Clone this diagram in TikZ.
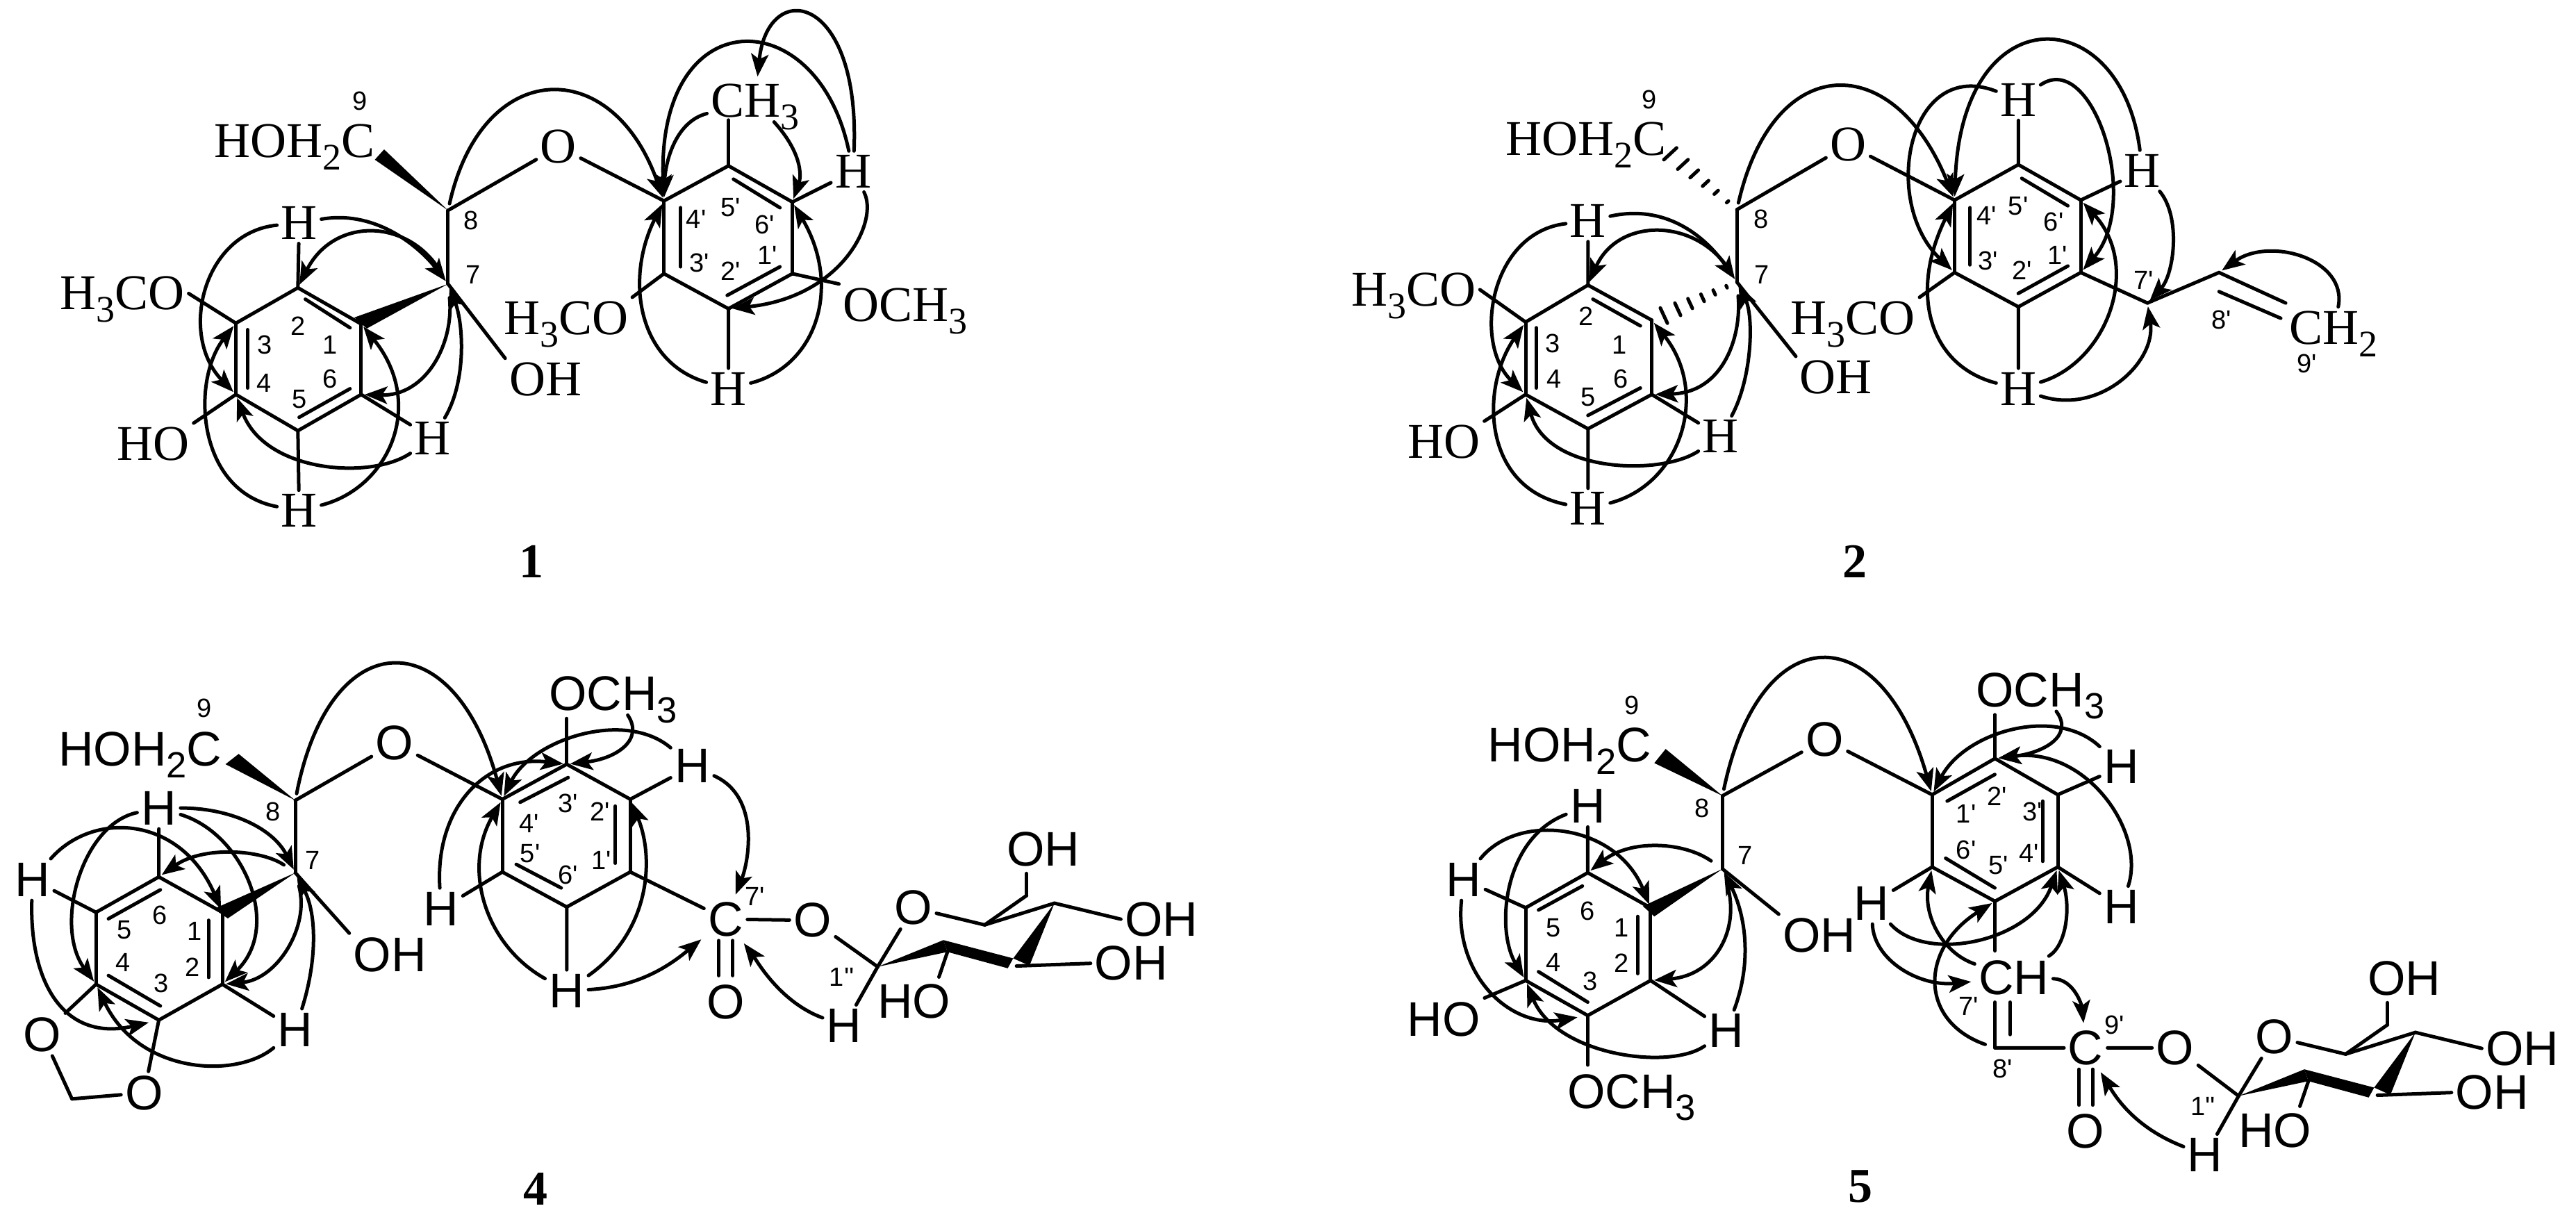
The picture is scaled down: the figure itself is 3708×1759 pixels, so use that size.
\documentclass[tikz,border=0pt]{standalone}
\usepackage{fontspec}
\usetikzlibrary{arrows.meta,calc}
\newfontfamily\chemserif{Liberation Serif}
\newfontfamily\chemsans{Liberation Sans}
\newcommand{\low}[1]{\smash{\raisebox{-.25em}{\scalebox{.75}{#1}}}}

\begin{document}
\begin{tikzpicture}[
    x=0.2pt, y=-0.2pt,
    bond/.style={line width=1pt, line cap=round},
    hmbc/.style={line width=1pt, line cap=round, shorten >=1pt, -{Stealth[length=6.5pt,width=5pt,inset=1.5pt]}},
    atom/.style={inner sep=1pt, font=\chemserif\fontsize{14.4}{15}\selectfont},
    atomsans/.style={inner sep=1pt, font=\chemsans\fontsize{14}{15}\selectfont},
    digit/.style={inner sep=0pt, font=\chemsans\fontsize{7.6}{8}\selectfont},
    cmpd/.style={inner sep=0pt, font=\chemserif\bfseries\fontsize{14}{14}\selectfont}
]
\useasboundingbox (0,0) rectangle (3708,1759);

% Sugar of 4 and 5
\foreach \m/\dx/\dy in {d/0/0,e/1959/186}{
\begin{scope}[shift={(40+\dx,900+\dy)}, xscale=1.116, yscale=0.548]
\coordinate (s1\m) at (1096,897);
\coordinate (s2\m) at (1186,858);
\coordinate (s3\m) at (1275,895);
\coordinate (s4\m) at (1324,730);
\coordinate (s5\m) at (1234,787);
\coordinate (s6\m) at (1288,710);
\coordinate (e6\m) at (1288,652);
\coordinate (e2\m) at (1175,924);
\node[atomsans] (o5\m) at (1142,742) {O};
\node[atomsans] (oh6\m) at (1310,588) {OH};
\node[atomsans] (oh4\m) at (1462,772) {OH};
\node[atomsans] (oh3\m) at (1423,888) {OH};
\node[atomsans] (ho2\m) at (1143,988) {HO};
\node[atomsans] (h1\m) at (1053,1052) {H};
\node[digit] (lab1\m) at (1050,925) {1''};
\fill (s1\m) -- (1181,827) -- (s2\m) -- cycle;
\fill (1181,827) -- (1271,875) -- (1264,901) -- (s2\m) -- cycle;
\fill (s4\m) -- (1271,875) -- (1292,894) -- cycle;
\foreach \u/\v in {s1\m/o5\m,o5\m/s5\m,s5\m/s4\m,s5\m/s6\m,s6\m/e6\m,s4\m/oh4\m.west,s3\m/oh3\m.west,s2\m/e2\m,s1\m/h1\m}
  \draw[bond] (\u) -- (\v);
\end{scope}
}

% Compound 1
\begin{scope}[shift={(60,0)}, xscale=0.893, yscale=0.5486]
\foreach \n/\x/\y in {c2a/413/755,c1a/515/850,c6a/515/1035,c5a/413/1130,c4a/313/1035,c3a/313/848,c7a/655/745,c8a/655/552,
    c5pa/1107/435,c6pa/1210/530,c1pa/1210/718,c2pa/1107/810,c3pa/1003/718,c4pa/1003/527,ch3a/1107/315}
  \coordinate (\n) at (\x,\y);
\foreach \n/\x/\y in {h2a/415/585,h6a/630/1150,h5a/415/1340,h6pa/1308/450,h2pa/1107/1020}
  \node[atom] (\n) at (\x,\y) {H};
\node[atom] (o1a) at (833,385) {O};
\node[atom] (oha) at (812,995) {OH};
\node[atom] (hoa) at (180,1165) {HO};
\node[atom] (meo3a) at (130,770) {H\low{3}CO};
\node[atom] (meo3pa) at (845,835) {H\low{3}CO};
\node[atom] (meo1pa) at (1392,800) {OCH\low{3}};
\node[atom] (me5pa) at (1150,265) {CH\low{3}};
\node[atom] (c9a) at (408,370) {HOH\low{2}C};
\node[cmpd] (num1) at (790,1473) {1};
\foreach \t/\x/\y [count=\k] in {9/513/265,8/692/578,7/695/720,2/413/855,1/465/905,3/360/905,4/358/1005,5/415/1048,6/465/995,
    5'/1110/545,4'/1055/575,6'/1165/590,1'/1170/670,3'/1060/690,2'/1110/712}
  \node[digit] (laba\k) at (\x,\y) {\t};

% Bonds
\foreach \u/\v in {c2a/c1a,c1a/c6a,c6a/c5a,c5a/c4a,c4a/c3a,c3a/c2a,c7a/c8a,c5pa/c6pa,c6pa/c1pa,c1pa/c2pa,c2pa/c3pa,c3pa/c4pa,c4pa/c5pa,
    c2a/h2a,c6a/h6a,c5a/h5a,c6pa/h6pa,c2pa/h2pa,c5pa/ch3a,c3a/meo3a.east,c4a/hoa.north east,c7a/oha.north west,
    c3pa/meo3pa.north east,c1pa/meo1pa.north west,c8a/o1a,o1a/c4pa}
  \draw[bond] (\u) -- (\v);
\foreach \p/\q in {{425,785}/{497,860},{332,865}/{332,1018},{415,1095}/{497,1020},{1115,470}/{1190,545},{1190,700}/{1105,775},{1030,545}/{1030,700}}
  \draw[bond] (\p) -- (\q);
\fill (c8a) -- (537,419) -- (552,392) -- cycle;
\fill (c7a) -- (504,833) -- (524,862) -- cycle;

% HMBC
\draw[hmbc] (h2a) .. controls (260,610) and (220,880) .. (c4a);
\draw[hmbc] (h5a) .. controls (250,1290) and (240,1000) .. (c3a);
\draw[hmbc] (h5a) .. controls (560,1280) and (620,1060) .. (c1a);
\draw[hmbc] (h6a) .. controls (530,1260) and (360,1240) .. (c4a);
\draw[hmbc] (h6a) .. controls (685,1000) and (680,850) .. (c7a);
\draw[hmbc] (h2a) .. controls (540,550) and (610,650) .. (c7a);
\draw[hmbc, shorten <=4pt] (c7a) .. controls (590,570) and (470,570) .. (c2a);
\draw[hmbc, shorten <=4pt] (c7a) .. controls (665,900) and (620,1040) .. (c6a);
\draw[hmbc, shorten <=2pt] (c8a) .. controls (710,150) and (920,140) .. (c4pa);
\draw[hmbc] (h6pa) .. controls (1320,-20) and (1170,-60) .. (me5pa);
\draw[hmbc] (h6pa) .. controls (1250,0) and (990,0) .. (c4pa);
\draw[hmbc] (me5pa) .. controls (1020,320) and (1005,430) .. (c4pa);
\draw[hmbc] (me5pa) .. controls (1225,400) and (1225,460) .. (c6pa);
\draw[hmbc] (h6pa) .. controls (1350,580) and (1290,780) .. (c2pa);
\draw[hmbc] (h2pa) .. controls (1250,960) and (1290,750) .. (c6pa);
\draw[hmbc] (h2pa) .. controls (960,950) and (940,730) .. (c4pa);
\end{scope}

% Compound 2
\begin{scope}[shift={(1900,0)}, xscale=1.0204, yscale=0.5486]
\foreach \n/\x/\y in {c2b/378/748,c1b/468/840,c6b/468/1035,c5b/378/1125,c4b/290/1035,c3b/290/845,c7b/588/740,c8b/588/550,
    c5pb/985/432,c6pb/1073/525,c1pb/1073/715,c2pb/985/805,c3pb/895/715,c4pb/895/525,c7pb/1167/795,c8pb/1268/715,
    e9pb/1362/795,f9pb/1355/835,g9pb/1268/765}
  \coordinate (\n) at (\x,\y);
\foreach \n/\x/\y in {h2b/378/580,h6b/565/1145,h5b/378/1335,h5pb/985/262,h6pb/1160/448,h2pb/985/1020}
  \node[atom] (\n) at (\x,\y) {H};
\node[atom] (o1b) at (745,380) {O};
\node[atom] (ohb) at (728,990) {OH};
\node[atom] (hob) at (175,1160) {HO};
\node[atom] (meo3b) at (132,760) {H\low{3}CO};
\node[atom] (meo3pb) at (752,835) {H\low{3}CO};
\node[atom] (c9b) at (375,365) {HOH\low{2}C};
\node[atom] (c9pb) at (1430,860) {CH\low{2}};
\node[cmpd] (num2) at (755,1473) {2};
\foreach \t/\x/\y [count=\k] in {9/465/262,8/622/575,7/623/720,2/375/830,1/422/905,3/328/902,4/330/995,5/378/1042,6/424/995,
    5'/985/540,4'/940/565,6'/1035/582,1'/1040/670,3'/942/685,2'/990/710,7'/1162/735,8'/1272/840,9'/1392/955}
  \node[digit] (labb\k) at (\x,\y) {\t};

% Bonds
\foreach \u/\v in {c2b/c1b,c1b/c6b,c6b/c5b,c5b/c4b,c4b/c3b,c3b/c2b,c7b/c8b,c5pb/c6pb,c6pb/c1pb,c1pb/c2pb,c2pb/c3pb,c3pb/c4pb,c4pb/c5pb,
    c2b/h2b,c6b/h6b,c5b/h5b,c5pb/h5pb,c6pb/h6pb,c2pb/h2pb,c3b/meo3b.east,c4b/hob.north east,c7b/ohb.north west,
    c3pb/meo3pb.north east,c8b/o1b,o1b/c4pb,c1pb/c7pb,c7pb/c8pb,c8pb/e9pb,g9pb/f9pb}
  \draw[bond] (\u) -- (\v);
\foreach \p/\q in {{385,785}/{452,855},{305,860}/{305,1018},{378,1090}/{452,1018},{990,468}/{1055,540},{1055,698}/{985,770},{917,545}/{917,695}}
  \draw[bond] (\p) -- (\q);
\coordinate (hash1b) at (480,808);
\coordinate (hash2b) at (490,848);
\coordinate (hash3b) at (485,419);
\coordinate (hash4b) at (503,388);
\foreach \f in {0.14,0.31,0.47,0.64,0.81,1}{
  \draw[bond] ($(c7b)!\f!(hash1b)$) -- ($(c7b)!\f!(hash2b)$);
  \draw[bond] ($(c8b)!\f!(hash3b)$) -- ($(c8b)!\f!(hash4b)$);
}

% HMBC
\draw[hmbc] (h2b) .. controls (240,610) and (215,900) .. (c4b);
\draw[hmbc] (h5b) .. controls (230,1280) and (225,1020) .. (c3b);
\draw[hmbc] (h5b) .. controls (510,1270) and (550,1030) .. (c1b);
\draw[hmbc] (h6b) .. controls (480,1250) and (320,1240) .. (c4b);
\draw[hmbc] (h6b) .. controls (610,990) and (612,830) .. (c7b);
\draw[hmbc] (h2b) .. controls (500,530) and (555,650) .. (c7b);
\draw[hmbc, shorten <=4pt] (c7b) .. controls (530,570) and (420,570) .. (c2b);
\draw[hmbc, shorten <=4pt] (c7b) .. controls (595,880) and (570,1030) .. (c6b);
\draw[hmbc, shorten <=2pt] (c8b) .. controls (640,130) and (810,130) .. (c4pb);
\draw[hmbc] (h5pb) .. controls (830,150) and (790,530) .. (c3pb);
\draw[hmbc] (h2pb) .. controls (860,960) and (830,770) .. (c4pb);
\draw[hmbc] (h2pb) .. controls (1110,950) and (1160,700) .. (c6pb);
\draw[hmbc] (h5pb) .. controls (1090,130) and (1160,530) .. (c1pb);
\draw[hmbc] (h6pb) .. controls (1130,0) and (905,-15) .. (c4pb);
\draw[hmbc] (h6pb) .. controls (1215,570) and (1205,720) .. (c7pb);
\draw[hmbc] (h2pb) .. controls (1100,1090) and (1180,950) .. (c7pb);
\draw[hmbc] (c9pb) .. controls (1450,680) and (1340,620) .. (c8pb);
\end{scope}

% Compound 4
\begin{scope}[shift={(40,900)}, xscale=1.116, yscale=0.548]
\foreach \n/\x/\y in {c6d/169/661,c1d/251/754,c2d/251/943,c3d/169/1037,c4d/88/943,c5d/88/754,c7d/345/650,c8d/345/460,
    c3pd/695/365,c2pd/777/457,c1pd/777/648,c6pd/695/740,c5pd/612/648,c4pd/612/457,eomd/695/245,ch2d/57/1244}
  \coordinate (\n) at (\x,\y);
\foreach \n/\x/\y in {h6d/169/480,h5d/6/668,h2d/345/1062,h2pd/857/370,h5pd/533/745,h6pd/695/960}
  \node[atomsans] (\n) at (\x,\y) {H};
\node[atomsans] (o1d) at (473,310) {O};
\node[atomsans] (ohd) at (467,865) {OH};
\node[atomsans] (o4d) at (19,1075) {O};
\node[atomsans] (o3d) at (150,1228) {O};
\node[atomsans] (c9d) at (145,325) {HOH\low{2}C};
\node[atomsans] (meod) at (755,180) {OCH\low{3}};
\node[atomsans] (c7pd) at (900,772) {C};
\node[atomsans] (o7pd) at (900,990) {O};
\node[atomsans] (oesd) at (1012,775) {O};
\node[cmpd] (num4) at (655,1480) {4};
\foreach \t/\x/\y [count=\k] in {9/228/218,8/316/490,7/367/617,6/170/762,5/125/800,4/123/885,3/172/940,2/212/898,1/215/803,
    3'/697/468,4'/647/520,2'/738/490,5'/648/600,1'/740/618,6'/697/655,7'/938/712}
  \node[digit] (labd\k) at (\x,\y) {\t};

% Bonds
\foreach \u/\v in {c6d/c1d,c1d/c2d,c2d/c3d,c3d/c4d,c4d/c5d,c5d/c6d,c7d/c8d,c3pd/c2pd,c2pd/c1pd,c1pd/c6pd,c6pd/c5pd,c5pd/c4pd,c4pd/c3pd,
    c6d/h6d,c5d/h5d,c2d/h2d,c2pd/h2pd,c5pd/h5pd,c6pd/h6pd,c3pd/eomd,c7d/ohd.north west,c4d/o4d,c3d/o3d,o4d/ch2d,ch2d/o3d,
    c8d/o1d,o1d/c4pd,c1pd/c7pd,c7pd/oesd,oesd/s1d}
  \draw[bond] (\u) -- (\v);
\foreach \p/\q in {{171,695}/{104,771},{104,920}/{171,1000},{233,775}/{233,925},{635,465}/{697,400},{630,628}/{688,690},{758,475}/{758,625}}
  \draw[bond] (\p) -- (\q);
\draw[bond, shorten >=1.5pt] ([xshift=-1.8pt]c7pd.south) -- ([xshift=-1.8pt]o7pd.north);
\draw[bond, shorten >=1.5pt] ([xshift=1.8pt]c7pd.south) -- ([xshift=1.8pt]o7pd.north);
\fill (c8d) -- (255,365) -- (272,338) -- cycle;
\fill (c7d) -- (240,745) -- (258,770) -- cycle;

% HMBC
\draw[hmbc] (h6d) .. controls (69,523) and (33,791) .. (c4d);
\draw[hmbc] (h5d) .. controls (84,487) and (197,499) .. (c1d);
\draw[hmbc, shorten >=3pt] (h5d) .. controls (2,943) and (48,1095) .. (c3d);
\draw[hmbc] (h2d) .. controls (269,1192) and (143,1180) .. (c4d);
\draw[hmbc] (h6d) .. controls (263,480) and (317,535) .. (c7d);
\draw[hmbc] (h6d) .. controls (278,547) and (329,791) .. (c2d);
\draw[hmbc, shorten <=4pt] (c7d) .. controls (302,590) and (227,578) .. (c6d);
\draw[hmbc, shorten <=4pt] (c7d) .. controls (364,791) and (322,930) .. (c2d);
\draw[hmbc] (h2d) .. controls (373,882) and (373,760) .. (c7d);
\draw[hmbc, shorten <=2pt] (c8d) .. controls (390,-10) and (550,-10) .. (c4pd);
\draw[hmbc] (h5pd) .. controls (525,480) and (590,340) .. (c3pd);
\draw[hmbc] (h2pd) .. controls (770,220) and (650,300) .. (c4pd);
\draw[hmbc] (meod) .. controls (795,300) and (760,350) .. (c3pd);
\draw[hmbc] (h6pd) .. controls (590,840) and (560,640) .. (c4pd);
\draw[hmbc] (h6pd) .. controls (800,810) and (810,620) .. (c2pd);
\draw[hmbc] (h6pd) .. controls (790,950) and (830,890) .. (c7pd);
\draw[hmbc] (h2pd) .. controls (945,450) and (930,620) .. (c7pd);
\draw[hmbc] (h1d) .. controls (970,990) and (940,880) .. (c7pd);
\end{scope}

% Compound 5
\begin{scope}[shift={(2000,900)}, xscale=1.0893, yscale=0.548]
\foreach \n/\x/\y in {c6e/262/650,c1e/345/742,c2e/345/933,c3e/262/1025,c4e/180/933,c5e/180/742,c7e/440/640,c8e/440/448,
    c2pe/800/350,c3pe/883/445,c4pe/883/635,c5pe/800/725,c6pe/717/635,c1pe/717/445,eome/800/235,eoma/262/1155,
    c7pe/800/855,c7qe/800/990,c7re/820/990,c8re/820/1075,c8pe/800/1110}
  \coordinate (\n) at (\x,\y);
\foreach \n/\x/\y in {h6e/262/475,h5e/98/668,h2e/445/1065,h3pe/967/372,h4pe/967/740,h6pe/637/730}
  \node[atomsans] (\n) at (\x,\y) {H};
\node[atomsans] (o1e) at (575,300) {O};
\node[atomsans] (ohe) at (568,815) {OH};
\node[atomsans] (hoe) at (72,1035) {HO};
\node[atomsans] (c9e) at (238,315) {HOH\low{2}C};
\node[atomsans] (meoe) at (860,170) {OCH\low{3}};
\node[atomsans] (meo3e) at (320,1225) {OCH\low{3}};
\node[atomsans] (chpe) at (825,925) {CH};
\node[atomsans] (c9pe) at (920,1110) {C};
\node[atomsans] (o9pe) at (920,1330) {O};
\node[atomsans] (oese) at (1038,1110) {O};
\node[cmpd] (num5) at (622,1475) {5};
\foreach \t/\x/\y [count=\k] in {9/320/210,8/413/480,7/470/605,6/262/750,5/217/795,4/217/885,3/265/935,2/307/888,1/307/795,
    2'/803/450,1'/762/495,3'/850/490,6'/762/590,5'/805/630,4'/845/600,7'/765/1000,8'/810/1165,9'/958/1050}
  \node[digit] (labe\k) at (\x,\y) {\t};

% Bonds
\foreach \u/\v in {c6e/c1e,c1e/c2e,c2e/c3e,c3e/c4e,c4e/c5e,c5e/c6e,c7e/c8e,c2pe/c3pe,c3pe/c4pe,c4pe/c5pe,c5pe/c6pe,c6pe/c1pe,c1pe/c2pe,
    c6e/h6e,c5e/h5e,c2e/h2e,c3pe/h3pe,c4pe/h4pe,c6pe/h6pe,c2pe/eome,c3e/eoma,c4e/hoe.north east,c7e/ohe.north west,c5pe/c7pe,
    c7qe/c8pe,c7re/c8re,c8pe/c9pe,c9pe/oese,c8e/o1e,o1e/c1pe,oese/s1e}
  \draw[bond] (\u) -- (\v);
\foreach \p/\q in {{255,685}/{197,748},{197,910}/{262,990},{328,765}/{328,915},{737,462}/{800,392},{735,612}/{800,690},{863,462}/{863,620}}
  \draw[bond] (\p) -- (\q);
\draw[bond, shorten >=1.5pt] ([xshift=-1.8pt]c9pe.south) -- ([xshift=-1.8pt]o9pe.north);
\draw[bond, shorten >=1.5pt] ([xshift=1.8pt]c9pe.south) -- ([xshift=1.8pt]o9pe.north);
\fill (c8e) -- (350,362) -- (365,325) -- cycle;
\fill (c7e) -- (335,738) -- (350,765) -- cycle;

% HMBC
\draw[hmbc] (h6e) .. controls (150,560) and (140,800) .. (c4e);
\draw[hmbc] (h5e) .. controls (170,490) and (300,520) .. (c1e);
\draw[hmbc, shorten >=3pt] (h5e) .. controls (85,920) and (160,1060) .. (c3e);
\draw[hmbc] (h2e) .. controls (370,1170) and (220,1130) .. (c4e);
\draw[hmbc, shorten <=4pt] (c7e) .. controls (390,570) and (320,560) .. (c6e);
\draw[hmbc] (h2e) .. controls (480,880) and (470,760) .. (c7e);
\draw[hmbc, shorten <=4pt] (c7e) .. controls (465,800) and (430,920) .. (c2e);
\draw[hmbc, shorten <=2pt] (c8e) .. controls (490,-25) and (650,-25) .. (c1pe);
\draw[hmbc] (meoe) .. controls (905,290) and (865,335) .. (c2pe);
\draw[hmbc] (h3pe) .. controls (880,210) and (760,280) .. (c1pe);
\draw[hmbc] (h4pe) .. controls (1000,540) and (920,320) .. (c2pe);
\draw[hmbc] (h6pe) .. controls (710,890) and (850,830) .. (c4pe);
\draw[hmbc] (h6pe) .. controls (640,880) and (700,950) .. (chpe);
\draw[hmbc] (chpe) .. controls (730,860) and (705,760) .. (c6pe);
\draw[hmbc, shorten <=3pt] (c8pe) .. controls (700,1040) and (700,850) .. (c5pe);
\draw[hmbc] (chpe) .. controls (895,840) and (900,740) .. (c4pe);
\draw[hmbc] (chpe) .. controls (905,930) and (915,1000) .. (c9pe);
\draw[hmbc] (h1e) .. controls (985,1320) and (960,1240) .. (c9pe);
\end{scope}

\end{tikzpicture}
\end{document}
